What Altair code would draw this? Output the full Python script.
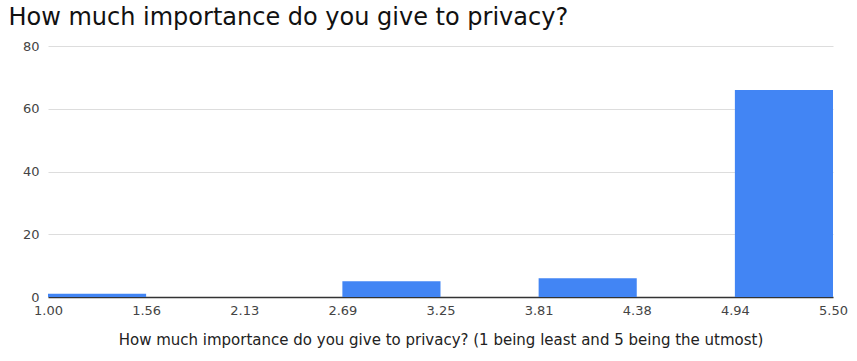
import altair as alt
import pandas as pd

bin_start = [1.0, 1.5625, 2.125, 2.6875, 3.25, 3.8125, 4.375, 4.9375]
bin_end = [1.5625, 2.125, 2.6875, 3.25, 3.8125, 4.375, 4.9375, 5.5]
counts = [1, 0, 0, 5, 0, 6, 0, 66]
x_ticks = [1.0, 1.5625, 2.125, 2.6875, 3.25, 3.8125, 4.375, 4.9375, 5.5]
y_ticks = [0, 20, 40, 60, 80]

df = pd.DataFrame({"start": bin_start, "end": bin_end, "count": counts})
df = df[df["count"] > 0]

font = "DejaVu Sans"

chart = alt.Chart(df).mark_bar(color="#4285F4").encode(
    x=alt.X("start:Q",
            scale=alt.Scale(domain=[1.0, 5.5], nice=False, zero=False),
            axis=alt.Axis(values=x_ticks, format=".2f", grid=False,
                          ticks=False, domain=True, domainColor="#333333",
                          domainWidth=1.5,
                          labelFont=font, labelFontSize=13, labelColor="#444444",
                          labelPadding=7, labelFlush=False,
                          title="How much importance do you give to privacy? (1 being least and 5 being the utmost)",
                          titleFont=font, titleFontSize=15, titleFontWeight="normal",
                          titleColor="#222222", titlePadding=15)),
    x2="end:Q",
    y=alt.Y("count:Q",
            scale=alt.Scale(domain=[0, 80], nice=False),
            axis=alt.Axis(values=y_ticks, grid=True, gridColor="#dddddd",
                          ticks=False, domain=False,
                          labelFont=font, labelFontSize=13, labelColor="#444444",
                          labelPadding=9, title=None)),
    y2=alt.datum(0),
).properties(
    width=785,
    height=251,
    title=alt.TitleParams(
        "How much importance do you give to privacy?",
        anchor="start", font=font, fontSize=24, fontWeight="normal",
        color="#111111", dx=-14, offset=10,
    ),
    autosize=alt.AutoSizeParams(type="none"),
    padding={"left": 48, "top": 46, "right": 24, "bottom": 64},
).configure_view(stroke=None)

chart.save("out.html", embed_options={"renderer": "svg", "actions": False})
